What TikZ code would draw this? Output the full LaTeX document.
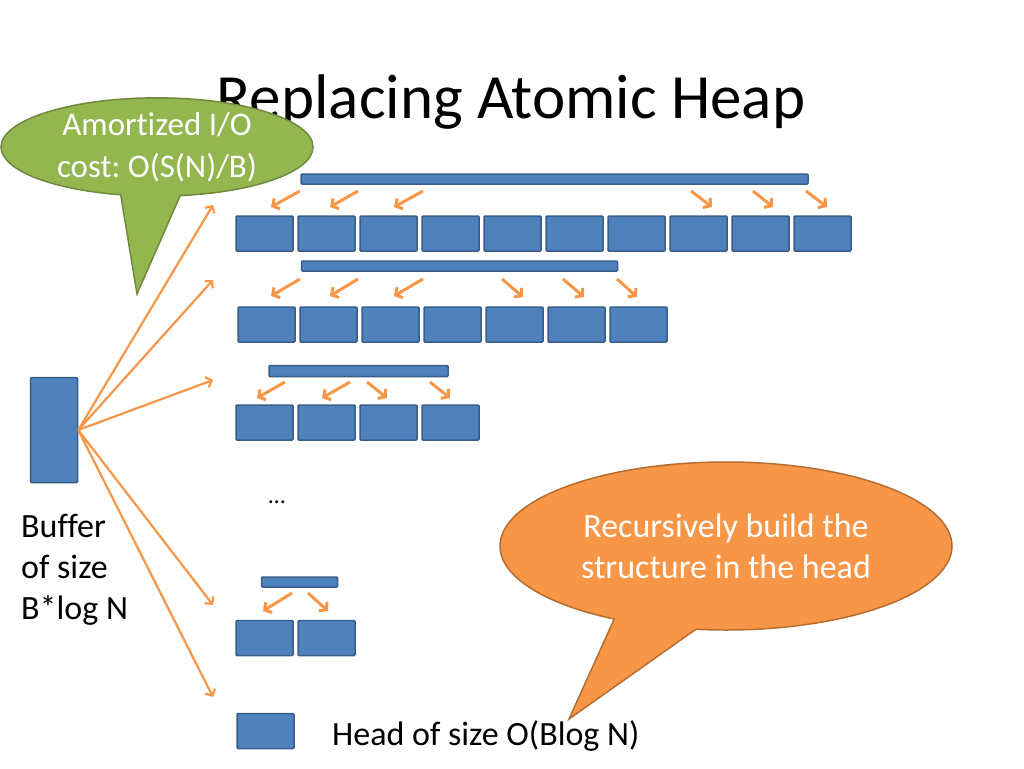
\documentclass[tikz,border=0pt]{standalone}
\usepackage{fontspec}
\setmainfont{Carlito}[Ligatures=NoCommon]
\usetikzlibrary{arrows.meta,shapes.callouts}
\definecolor{boxblue}{HTML}{4F81BD}
\definecolor{boxedge}{HTML}{385D8A}
\definecolor{arrorange}{HTML}{F79646}
\definecolor{calloutgreen}{HTML}{94B64E}
\definecolor{greenedge}{HTML}{71893F}
\definecolor{calloutorange}{HTML}{F79646}
\definecolor{orangeedge}{HTML}{B66D31}
\frenchspacing
\begin{document}
\begin{tikzpicture}[x=1pt,y=-1pt,
  blk/.style={draw=boxedge, fill=boxblue, line width=1.5pt, rounded corners=1pt, minimum width=57pt, minimum height=35pt, inner sep=0pt},
  barnode/.style={draw=boxedge, fill=boxblue, line width=1.5pt, rounded corners=1pt, minimum height=10pt, inner sep=0pt},
  sarr/.style={draw=arrorange, line width=3pt, -{Straight Barb[length=5pt,width=12pt]}},
  farr/.style={draw=arrorange, line width=2.2pt, -{Straight Barb[length=5pt,width=11pt]}},
  txt/.style={inner sep=0pt, font=\fontsize{34}{41}\selectfont}
]
\useasboundingbox (0,0) rectangle (1024,768);

% title
\node[anchor=base, inner sep=0pt, font=\fontsize{63}{75}\selectfont] (title) at (511,118) {Replacing Atomic Heap};

% row 1
\node[barnode, minimum width=507pt] (bar1) at (554.5,179) {};
\foreach \i in {1,...,10} \node[blk] (r1-\i) at ({264.5+62*(\i-1)},233.5) {};
\draw[sarr] (300,191) -- (271,207);
\draw[sarr] (358,191) -- (330,207);
\draw[sarr] (423,191) -- (394,207);
\draw[sarr] (691,191) -- (712,207);
\draw[sarr] (753,191) -- (773,207);
\draw[sarr] (806,191) -- (827,207);

% row 2
\node[barnode, minimum width=316pt] (bar2) at (459.5,266) {};
\foreach \i in {1,...,7} \node[blk] (r2-\i) at ({266.5+62*(\i-1)},324.5) {};
\draw[sarr] (300,279) -- (271,296);
\draw[sarr] (358,279) -- (330,296);
\draw[sarr] (423,279) -- (394,296);
\draw[sarr] (502,279) -- (523,297);
\draw[sarr] (563,279) -- (584,297);
\draw[sarr] (617,279) -- (637,297);

% row 3
\node[barnode, minimum width=179pt, minimum height=11pt] (bar3) at (358.5,371) {};
\foreach \i in {1,...,4} \node[blk] (r3-\i) at ({264.5+62*(\i-1)},422.5) {};
\draw[sarr] (285,382) -- (257,398);
\draw[sarr] (350,382) -- (322,398);
\draw[sarr] (367,382) -- (387,398);
\draw[sarr] (430,382) -- (450,398);

% dots
\node[anchor=base, inner sep=0pt, font=\fontsize{24}{28}\selectfont] (dots) at (277,503) {…};

% row 4
\node[barnode, minimum width=76pt] (bar4) at (299.5,582) {};
\node[blk] (r4-1) at (264.5,638) {};
\node[blk] (r4-2) at (326.5,638) {};
\draw[sarr] (292,593) -- (263,611);
\draw[sarr] (308,593) -- (328,611);

% head
\node[blk] (head) at (265.5,731) {};
\node[txt, anchor=base west] (headlbl) at (332,745) {Head of size O(Blog N)};

% buffer
\node[draw=boxedge, fill=boxblue, line width=1.5pt, rounded corners=1pt, minimum width=47pt, minimum height=105pt, inner sep=0pt] (buf) at (54,430) {};
\node[txt, anchor=base west, align=left] (buflbl) at (21,619) {Buffer\\of size\\B*log N};

\coordinate (t1) at (213,205);
\coordinate (t2) at (213,280);
\coordinate (t3) at (213,380);
\coordinate (t4) at (213,605);
\coordinate (t5) at (213,697);
\foreach \t in {t1,t2,t3,t4,t5} \draw[farr] (buf.east) -- (\t);

% green callout
\node[ellipse callout, draw=greenedge, fill=calloutgreen, line width=1.5pt,
  minimum width=312pt, minimum height=88pt, inner sep=0pt,
  callout absolute pointer={(137,294)}, callout pointer arc=22,
  text=white, align=center, font=\fontsize{33}{42}\selectfont] (amort) at (157,147) {\raisebox{-3pt}{Amortized I/O}\\\raisebox{-3pt}{cost: O(S(N)/B)}};

% orange callout
\node[ellipse callout, draw=orangeedge, fill=calloutorange, line width=1.5pt,
  minimum width=452pt, minimum height=168pt, inner sep=0pt,
  callout absolute pointer={(569,719)}, callout pointer arc=22,
  text=white, align=center, font=\fontsize{34}{41}\selectfont] (recur) at (726,546) {Recursively build the\\structure in the head};
\end{tikzpicture}
\end{document}
